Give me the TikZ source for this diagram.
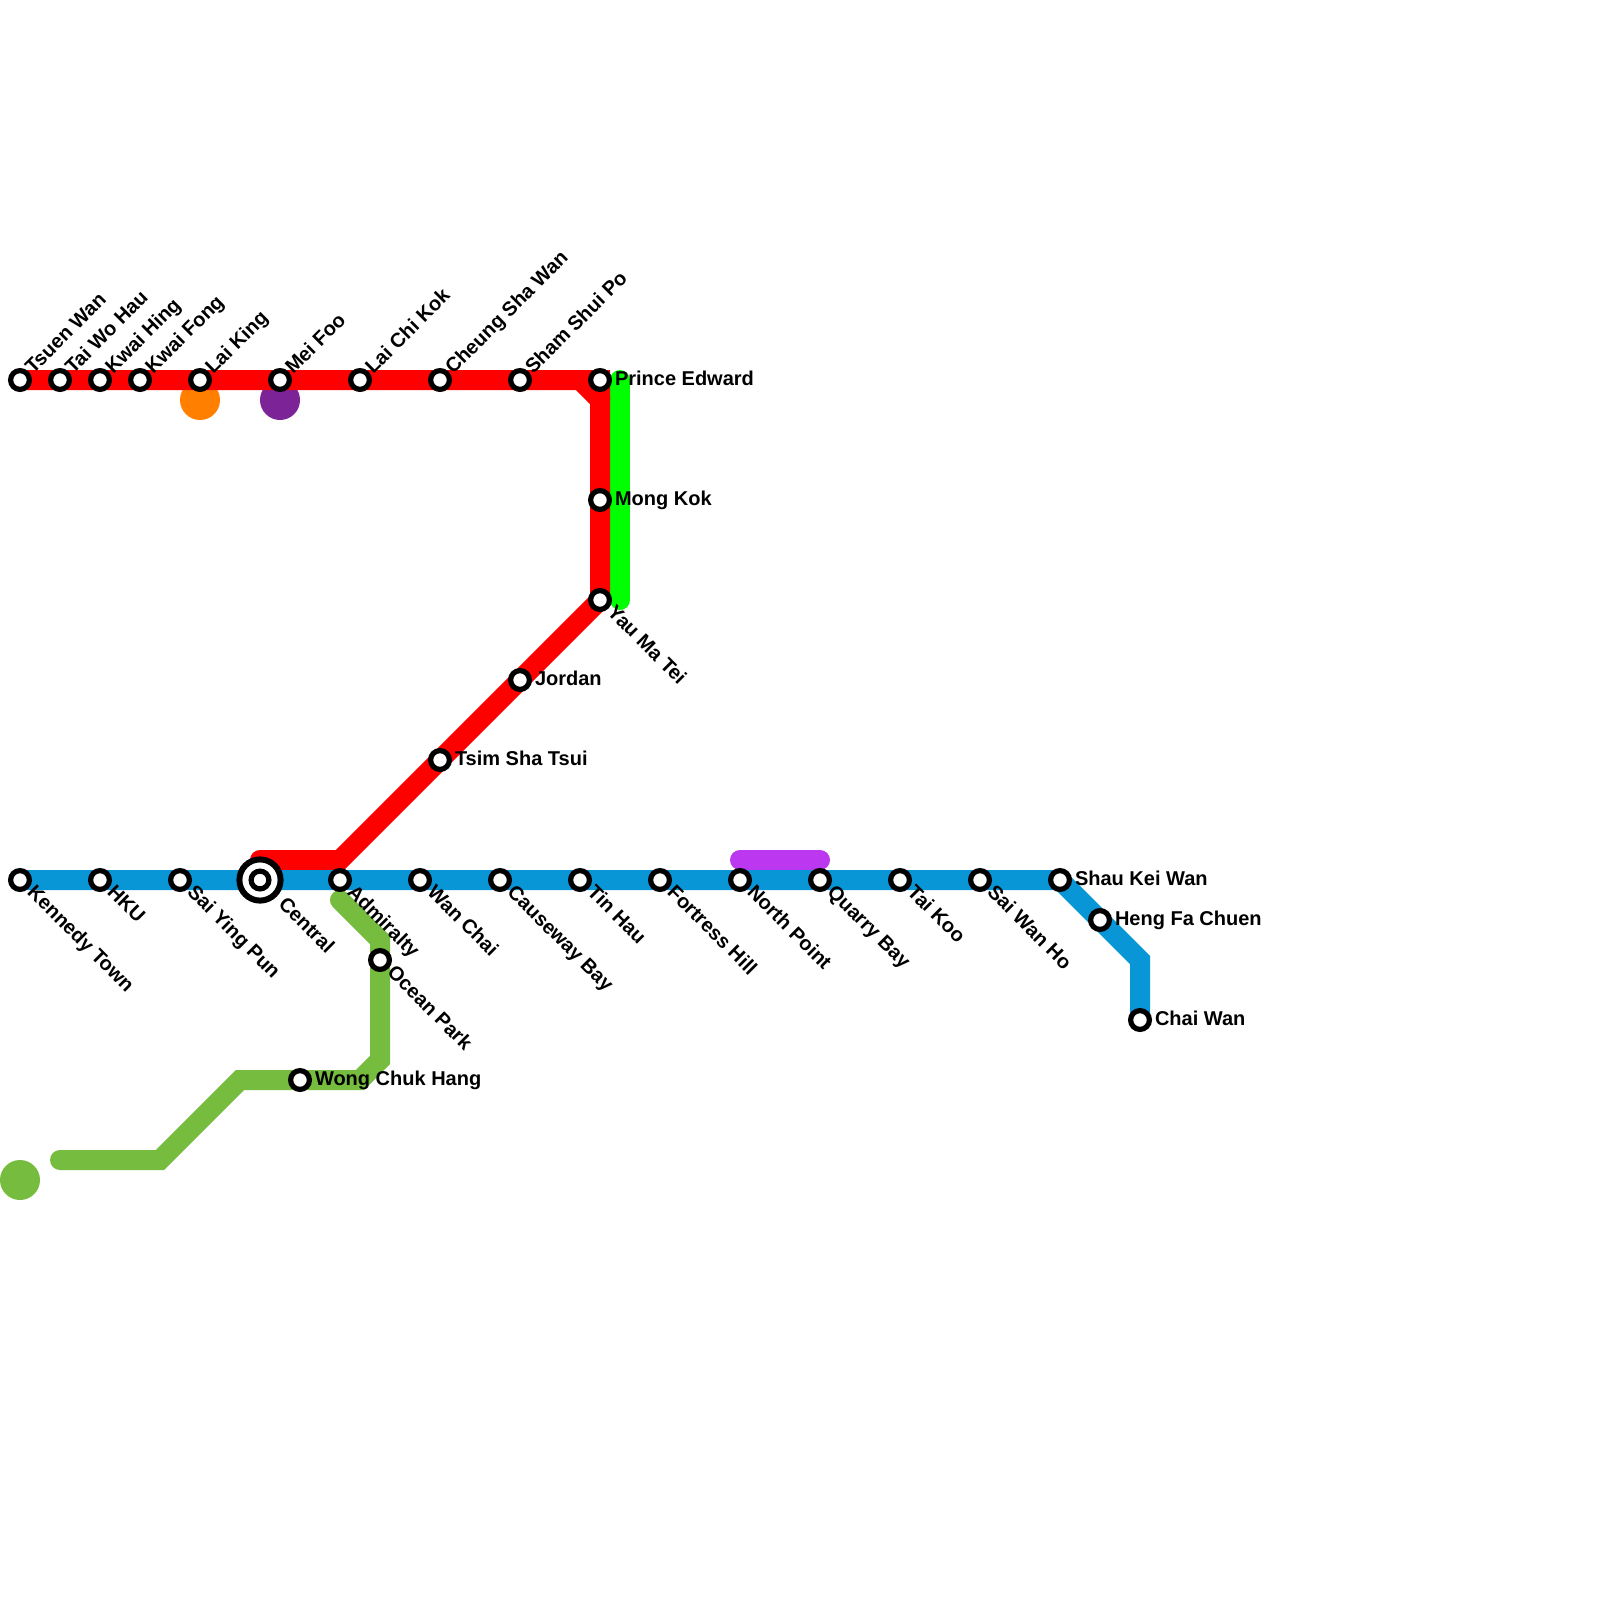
\documentclass[tikz,border=0pt]{standalone}
\usepackage{fontspec}
\setmainfont{Liberation Sans}[BoldFont={Liberation Sans Bold}]
\usetikzlibrary{calc,backgrounds}
\definecolor{cred}{HTML}{FF0000}
\definecolor{cgreen}{HTML}{00FF00}
\definecolor{cblue}{HTML}{0896D7}
\definecolor{clime}{HTML}{76BC3F}
\definecolor{corange}{HTML}{FF8000}
\definecolor{cpurple}{HTML}{7D2398}
\definecolor{cviolet}{HTML}{BB37F0}
\tikzset{
  x=0.5pt,y=-0.5pt,
  stn/.style={circle,draw=black,fill=white,line width=2.6pt,minimum size=9.4pt,inner sep=0pt,outer sep=0pt},
  stnin/.style={circle,draw=black,fill=white,line width=2.6pt,minimum size=8.9pt,inner sep=0pt,outer sep=0pt},
  stnbig/.style={circle,draw=black,fill=white,line width=3pt,minimum size=20.6pt,inner sep=0pt,outer sep=0pt},
  txt/.style={font=\fontsize{10pt}{12pt}\selectfont\bfseries,inner sep=0pt,outer sep=0pt,text=black},
  lne/.style={txt,anchor=base west,rotate=45,shift={(6.5pt,-2.9pt)}},
  lse/.style={txt,anchor=base west,rotate=-45,shift={(7.0pt,-2.5pt)}},
  lsefar/.style={txt,anchor=base west,rotate=-45,shift={(15.2pt,-2.8pt)}},
  le/.style={txt,anchor=base west,shift={(7.5pt,-2.7pt)}},
  rail/.style={line width=10pt,line cap=round,line join=miter,miter limit=10},
  dot/.style={circle,inner sep=0pt,outer sep=0pt,minimum size=20pt},
}
\newcommand{\station}[5]{\node[stn] (#1) at (#2,#3) {}; \node[#4] (#1-l) at (#2,#3) {#5};}
\begin{document}
\begin{tikzpicture}
\useasboundingbox (0,0) rectangle (1600,1600);
% Tsuen Wan line stations
\station{tw}{20}{380}{lne}{Tsuen Wan}
\station{twh}{60}{380}{lne}{Tai Wo Hau}
\station{kh}{100}{380}{lne}{Kwai Hing}
\station{kf}{140}{380}{lne}{Kwai Fong}
\station{lk}{200}{380}{lne}{Lai King}
\station{mf}{280}{380}{lne}{Mei Foo}
\station{lck}{360}{380}{lne}{Lai Chi Kok}
\station{csw}{440}{380}{lne}{Cheung Sha Wan}
\station{ssp}{520}{380}{lne}{Sham Shui Po}
\station{pe}{600}{380}{le}{Prince Edward}
\station{mk}{600}{500}{le}{Mong Kok}
\station{ymt}{600}{600}{lse}{Yau Ma Tei}
\station{jd}{520}{680}{le}{Jordan}
\station{tst}{440}{760}{le}{Tsim Sha Tsui}
% Island line stations
\station{ken}{20}{880}{lse}{Kennedy Town}
\station{hku}{100}{880}{lse}{HKU}
\station{syp}{180}{880}{lse}{Sai Ying Pun}
\node[stnbig] (ctl) at (260,880) {};
\node[stnin] (ctl-in) at (260,880) {};
\node[lsefar] (ctl-l) at (260,880) {Central};
\station{adm}{340}{880}{lse}{Admiralty}
\station{wc}{420}{880}{lse}{Wan Chai}
\station{cb}{500}{880}{lse}{Causeway Bay}
\station{th}{580}{880}{lse}{Tin Hau}
\station{fh}{660}{880}{lse}{Fortress Hill}
\station{np}{740}{880}{lse}{North Point}
\station{qb}{820}{880}{lse}{Quarry Bay}
\station{tk}{900}{880}{lse}{Tai Koo}
\station{swh}{980}{880}{lse}{Sai Wan Ho}
\station{skw}{1060}{880}{le}{Shau Kei Wan}
\station{hfc}{1100}{920}{le}{Heng Fa Chuen}
\station{cw}{1140}{1020}{le}{Chai Wan}
% South Island line stations
\station{op}{380}{960}{lse}{Ocean Park}
\station{wch}{300}{1080}{le}{Wong Chuk Hang}
% Bends
\coordinate (r1) at (580,380);
\coordinate (r2) at (600,400);
\coordinate (r3) at (340,860);
\coordinate (r4) at (260,860);
\coordinate (g1) at (620,380);
\coordinate (g2) at (620,600);
\coordinate (b1) at (1140,960);
\coordinate (v1) at (740,860);
\coordinate (v2) at (820,860);
\coordinate (l1) at (340,900);
\coordinate (l2) at (380,940);
\coordinate (l3) at (380,1060);
\coordinate (l4) at (360,1080);
\coordinate (l5) at (240,1080);
\coordinate (l6) at (160,1160);
\coordinate (l7) at (60,1160);
\begin{pgfonlayer}{background}
\fill[white] (0,0) rectangle (1600,1600);
\node[dot,fill=corange] (dotorange) at (200,400) {};
\node[dot,fill=cpurple] (dotpurple) at (280,400) {};
\node[dot,fill=clime] (dotlime) at (20,1180) {};
\draw[rail,cgreen] (g1) -- (g2);
\draw[rail,cred,line cap=butt] (tw.center) -- (r1) -- (r2) -- (ymt.center) -- (r3) -- (r4);
\fill[cred] (r1) -- (610,370) -- (610,400) -- cycle;
\fill[cred] (580,370) rectangle (610,390);
\fill[cred] (r4) circle[radius=10];
\draw[rail,cviolet] (v1) -- (v2);
\draw[rail,cblue,line cap=butt] (ken.center) -- (skw.center) -- (b1) -- (cw.center);
\draw[rail,clime] (l1) -- (l2) -- (l3) -- (l4) -- (l5) -- (l6) -- (l7);
\end{pgfonlayer}
\end{tikzpicture}
\end{document}
